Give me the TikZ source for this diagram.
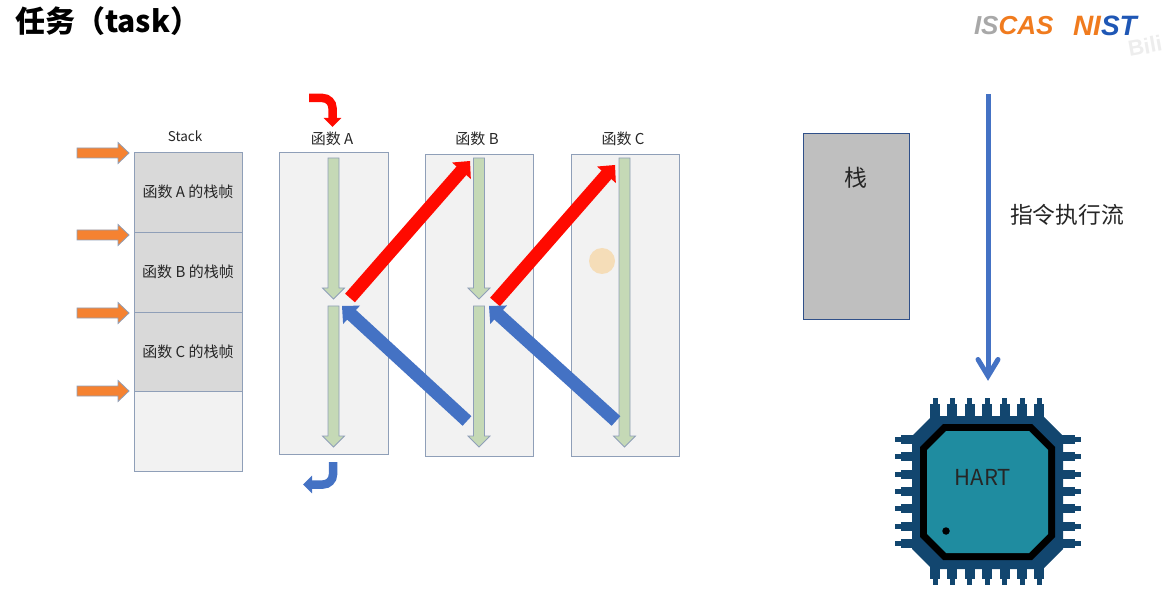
\documentclass[tikz,border=0pt]{standalone}
\usepackage{fontspec}
\setmainfont{Noto Sans CJK SC}
\newfontfamily\logofont{Liberation Sans}
\usetikzlibrary{calc,arrows.meta}
\definecolor{edgeblue}{HTML}{8F9FB8}
\definecolor{framegrey}{HTML}{D9D9D9}
\definecolor{paleframe}{HTML}{F2F2F2}
\definecolor{orangeA}{HTML}{F58231}
\definecolor{greenA}{HTML}{C5D9B6}
\definecolor{blueA}{HTML}{4472C4}
\definecolor{darkchip}{HTML}{12466F}
\definecolor{tealchip}{HTML}{1F8CA0}
\definecolor{logoorange}{HTML}{F07B1E}
\definecolor{logoblue}{HTML}{1F57B5}
\definecolor{logogrey}{HTML}{A8A8A8}
\definecolor{peach}{HTML}{F5DDB8}
\tikzset{
  x=1pt,y=-1pt,
  every node/.style={outer sep=0pt},
  stackcell/.style={draw=edgeblue,line width=.9pt,minimum width=108pt,inner sep=0pt,anchor=north west,font=\fontsize{15}{17}\selectfont,text=black!85},
  funcbox/.style={draw=edgeblue,line width=.9pt,fill=paleframe,minimum width=108.5pt,minimum height=302pt,inner sep=0pt,anchor=north west},
  lab/.style={font=\fontsize{15}{17}\selectfont,inner sep=0pt,text=black!85},
  orangearrow/.style={fill=orangeA,draw=edgeblue,line width=.8pt},
  greenarrow/.style={fill=greenA,draw=edgeblue,line width=.8pt},
  redarrow/.style={fill=red!92!orange,draw=none},
  bluearrow/.style={fill=blueA,draw=none},
  pin/.style={fill=darkchip,draw=none},
  curvedred/.style={draw=red!92!orange,line width=8.5pt,rounded corners=10pt,-{Triangle[length=9pt,width=17pt]}},
  curvedblue/.style={draw=blueA,line width=8.5pt,rounded corners=10pt,-{Triangle[length=9pt,width=17pt]}},
  flowline/.style={draw=blueA,line width=5pt},
  flowhead/.style={draw=blueA,line width=5pt,line cap=round,line join=miter},
}
% style, start, end, half shaft, half head, head length
\newcommand{\blockarrow}[6]{%
  \coordinate (hb) at ($(#3)!#6pt!(#2)$);
  \draw[#1,line join=miter] ($(#2)!#4pt!90:(#3)$) -- ($(hb)!#4pt!90:(#3)$) -- ($(hb)!#5pt!90:(#3)$) -- (#3)
    -- ($(hb)!#5pt!-90:(#3)$) -- ($(hb)!#4pt!-90:(#3)$) -- ($(#2)!#4pt!-90:(#3)$) -- cycle;
}
\begin{document}
\begin{tikzpicture}
\useasboundingbox (0,0) rectangle (1166,609);
\node[anchor=west,inner sep=0pt,font=\fontsize{30}{34}\selectfont\bfseries] (title) at (15,21) {任务（task）};

% logos
\node[anchor=west,inner sep=0pt,font=\logofont\fontsize{26}{28}\selectfont\bfseries\itshape] (iscas) at (974,26) {\textcolor{logogrey}{IS}\textcolor{logoorange}{CAS}};
\node[anchor=west,inner sep=0pt,font=\logofont\fontsize{28}{30}\selectfont\bfseries\itshape] (nist) at (1073,26) {\textcolor{logoorange}{NI}\textcolor{logoblue}{ST}};
\node[rotate=10,text=black!7,inner sep=0pt,font=\logofont\fontsize{22}{24}\selectfont\bfseries] (wm) at (1145,46) {Bili};

% stack
\node[lab,font=\fontsize{13.5}{15}\selectfont] (stacklab) at (185,136) {Stack};
\node[stackcell,fill=framegrey,minimum height=79.5pt] (fa) at (134,152.5) {函数 A 的栈帧};
\node[stackcell,fill=framegrey,minimum height=80pt] (fb) at (134,232) {函数 B 的栈帧};
\node[stackcell,fill=framegrey,minimum height=79pt] (fc) at (134,312) {函数 C 的栈帧};
\node[stackcell,fill=paleframe,minimum height=80pt] (fd) at (134,391) {};

\coordinate (o1s) at (77,153); \coordinate (o1e) at (129,153);
\coordinate (o2s) at (77,235); \coordinate (o2e) at (129,235);
\coordinate (o3s) at (77,313); \coordinate (o3e) at (129,313);
\coordinate (o4s) at (77,391); \coordinate (o4e) at (129,391);
\foreach \n in {1,2,3,4}{\blockarrow{orangearrow}{o\n s}{o\n e}{5}{10.5}{11}}

% function boxes
\node[funcbox] (boxa) at (279.5,152.5) {};
\node[funcbox] (boxb) at (425,154) {};
\node[funcbox] (boxc) at (571,154) {};
\node[lab] (laba) at (332,139) {函数 A};
\node[lab] (labb) at (477,139) {函数 B};
\node[lab] (labc) at (623,139) {函数 C};

% green arrows
\coordinate (a1) at (333.5,158); \coordinate (a2) at (333.5,299);
\coordinate (a3) at (333.5,306); \coordinate (a4) at (333.5,447);
\coordinate (b1) at (479,158); \coordinate (b2) at (479,299);
\coordinate (b3) at (479,306); \coordinate (b4) at (479,447);
\coordinate (c1) at (624.5,158); \coordinate (c2) at (624.5,447);
\blockarrow{greenarrow}{a1}{a2}{5.5}{11}{11}
\blockarrow{greenarrow}{a3}{a4}{5.5}{11}{11}
\blockarrow{greenarrow}{b1}{b2}{5.5}{11}{11}
\blockarrow{greenarrow}{b3}{b4}{5.5}{11}{11}
\blockarrow{greenarrow}{c1}{c2}{5.5}{11}{11}

% diagonals
\coordinate (r1s) at (350,298); \coordinate (r1e) at (470,161);
\coordinate (r2s) at (495,302); \coordinate (r2e) at (615,165);
\coordinate (u1s) at (467,421); \coordinate (u1e) at (342,306);
\coordinate (u2s) at (616,421); \coordinate (u2e) at (489,306);
\blockarrow{redarrow}{r1s}{r1e}{6.5}{12.5}{13}
\blockarrow{redarrow}{r2s}{r2e}{6.5}{12.5}{13}
\blockarrow{bluearrow}{u1s}{u1e}{6.5}{12.5}{13}
\blockarrow{bluearrow}{u2s}{u2e}{6.5}{12.5}{13}

% entry / exit
\coordinate (ins) at (309,98); \coordinate (inb) at (332.5,98); \coordinate (ine) at (332.5,127);
\draw[curvedred] (ins) -- (inb) -- (ine);
\coordinate (exs) at (333,462); \coordinate (exb) at (333,484.5); \coordinate (exe) at (303,484.5);
\draw[curvedblue] (exs) -- (exb) -- (exe);

% pointer dot
\node[circle,fill=peach,minimum size=26pt,inner sep=0pt] (dot) at (602,261) {};

% right side
\node[draw=blueA!70!black,line width=1pt,fill=black!25,minimum width=105.5pt,minimum height=185.5pt,inner sep=0pt,anchor=north west] (stk) at (803.5,134) {};
\node[lab,font=\fontsize{23}{25}\selectfont] (stktxt) at (856,178) {栈};
\coordinate (fl1) at (988,94); \coordinate (fl2) at (988,376);
\coordinate (fhl) at (978,359.5); \coordinate (fhr) at (998,359.5);
\draw[flowline] (fl1) -- (fl2);
\draw[flowhead] (fhl) -- (fl2) -- (fhr);
\node[lab,font=\fontsize{22.8}{25}\selectfont] (flowtxt) at (1067,215) {指令执行流};

% chip
\foreach \i in {0,...,6}{
  \pgfmathsetmacro{\p}{935+17.4*\i}
  \fill[pin] (\p-2.5,398) rectangle (\p+2.5,406);
  \fill[pin] (\p-5,404) rectangle (\p+5,425);
  \fill[pin] (\p-2.5,578) rectangle (\p+2.5,585);
  \fill[pin] (\p-5,555) rectangle (\p+5,579);
  \pgfmathsetmacro{\q}{439.5+17.3*\i}
  \fill[pin] (895,\q-2.5) rectangle (903,\q+2.5);
  \fill[pin] (901,\q-4.5) rectangle (925,\q+4.5);
  \fill[pin] (1074,\q-2.5) rectangle (1081,\q+2.5);
  \fill[pin] (1050,\q-4.5) rectangle (1075,\q+4.5);
}
\fill[darkchip] (932,416) -- (1043,416) -- (1063,436) -- (1063,549) -- (1043,569) -- (932,569) -- (912,549) -- (912,436) -- cycle;
\fill[black] (943,424) -- (1032,424) -- (1055,447) -- (1055,537) -- (1032,560) -- (943,560) -- (920,537) -- (920,447) -- cycle;
\fill[tealchip] (946,431) -- (1029,431) -- (1048,450) -- (1048,534) -- (1029,553) -- (946,553) -- (927,534) -- (927,450) -- cycle;
\node[circle,fill=black,minimum size=7.5pt,inner sep=0pt] (pinone) at (946,531) {};
\node[lab,font=\fontsize{22}{24}\selectfont,text=black!85] (hart) at (983,477) {HART};
\end{tikzpicture}
\end{document}
